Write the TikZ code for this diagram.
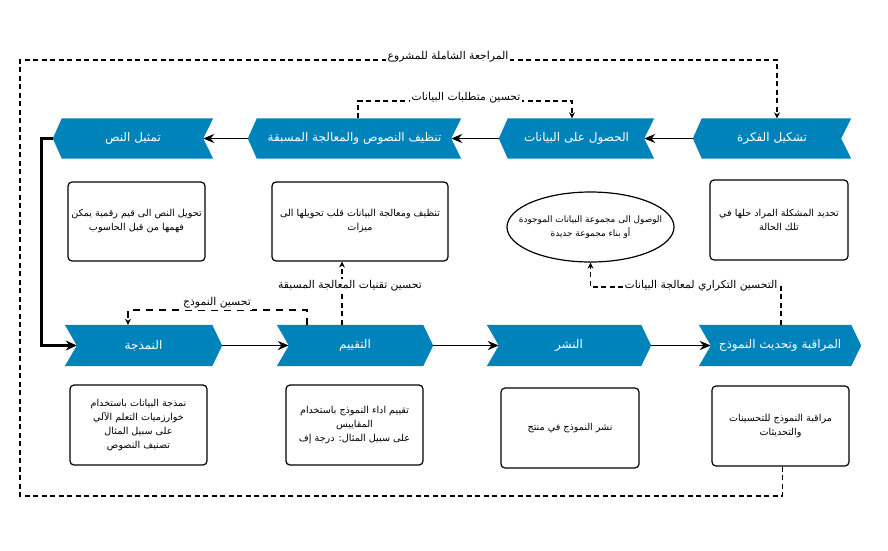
\documentclass[tikz,border=0pt]{standalone}
\usepackage{fontspec}
\newfontfamily\arabicfont[Script=Arabic]{DejaVu Sans}
\TeXXeTstate=1
\usetikzlibrary{arrows.meta,shapes.geometric,backgrounds}
\definecolor{chevblue}{RGB}{0,130,186}
\newcommand\RL[1]{\beginR #1\endR}
\newcommand\chevfont{\arabicfont\fontsize{12}{14}\selectfont}
\newcommand\detfont{\arabicfont\fontsize{9.6}{14}\selectfont}
\newcommand\ellfont{\arabicfont\fontsize{8.9}{13.5}\selectfont}
\newcommand\lblfont{\arabicfont\fontsize{10.8}{12}\selectfont}
\newcommand\chevleft[1]{\fill[chevblue] (#1.west) -- ([xshift=9pt]#1.north west) -- (#1.north east) -- ([xshift=-10pt]#1.east) -- (#1.south east) -- ([xshift=9pt]#1.south west) -- cycle;}
\newcommand\chevright[1]{\fill[chevblue] (#1.north west) -- ([xshift=-10pt]#1.north east) -- (#1.east) -- ([xshift=-10pt]#1.south east) -- (#1.south west) -- ([xshift=12pt]#1.west) -- cycle;}
\tikzset{
  chev/.style={rectangle, inner sep=0pt, minimum height=40pt, text=white, font=\chevfont},
  detail/.style={draw, rounded corners=4pt, line width=1.2pt, align=center, font=\detfont, inner sep=2pt},
  detailell/.style={draw, ellipse, line width=1.2pt, inner sep=0pt},
  dettext/.style={align=center, font=\ellfont, inner sep=0pt},
  mainarrow/.style={line width=1.8pt, -{Stealth[length=11pt,width=9pt]}},
  thickarrow/.style={line width=2.8pt, -{Stealth[length=11pt,width=10pt]}},
  dashline/.style={line width=1.2pt, dash pattern=on 5pt off 3.5pt, -{Stealth[length=6pt,width=6pt]}},
  lbl/.style={fill=white, inner sep=1.5pt, font=\lblfont},
}
\begin{document}
\begin{tikzpicture}[x=1pt,y=-1pt]
\useasboundingbox (0,0) rectangle (888,550);
% top row chevrons (pointing left)
\node[chev, minimum width=158pt] (idea) at (772,138.5) {\RL{تشكيل الفكرة}};
\node[chev, minimum width=155pt] (acq) at (576.5,138.5) {\RL{الحصول على البيانات}};
\node[chev, minimum width=213pt] (clean) at (354.5,138.5) {\RL{تنظيف النصوص والمعالجة المسبقة}};
\node[chev, minimum width=160pt] (rep) at (133,138.5) {\RL{تمثيل النص}};
% bottom row chevrons (pointing right)
\node[chev, minimum width=157pt, minimum height=41pt] (model) at (143.5,345.5) {\RL{النمذجة}};
\node[chev, minimum width=156pt, minimum height=41pt] (eval) at (355,345.5) {\RL{التقييم}};
\node[chev, minimum width=164pt, minimum height=41pt] (deploy) at (569,345.5) {\RL{النشر}};
\node[chev, minimum width=162pt, minimum height=41pt] (monitor) at (780,345.5) {\RL{المراقبة وتحديث النموذج}};
\begin{scope}[on background layer]
  \fill[white] (0,0) rectangle (888,550);
  \chevleft{idea}\chevleft{acq}\chevleft{clean}\chevleft{rep}
  \chevright{model}\chevright{eval}\chevright{deploy}\chevright{monitor}
\end{scope}
% detail boxes
\node[detail, minimum width=138pt, minimum height=80pt] (b4) at (779,220) {\RL{تحديد المشكلة المراد حلها في}\\\RL{تلك الحالة}};
\node[detailell, minimum width=167pt, minimum height=70pt] (b3) at (590.5,227) {};
\node[dettext] (b3t) at (b3.center) {\RL{الوصول الى مجموعة البيانات الموجودة}\\\RL{أو بناء مجموعة جديدة}};
\node[detail, minimum width=176pt, minimum height=79pt] (b2) at (360,221.5) {\RL{تنظيف ومعالجة البيانات قلب تحويلها الى}\\\RL{ميزات}};
\node[detail, minimum width=137pt, minimum height=79pt] (b1) at (136.5,221.5) {\RL{تحويل النص الى قيم رقمية يمكن}\\\RL{فهمها من قبل الحاسوب}};
\node[detail, minimum width=137pt, minimum height=80pt] (b5) at (138.5,425) {\RL{نمذجة البيانات باستخدام}\\\RL{خوارزميات التعلم الآلي}\\\RL{على سبيل المثال}\\\RL{تصنيف النصوص}};
\node[detail, minimum width=137pt, minimum height=80pt] (b6) at (354.5,425) {\RL{تقييم اداء النموذج باستخدام}\\\RL{المقاييس}\\\RL{على سبيل المثال: درجة إف}};
\node[detail, minimum width=138pt, minimum height=80pt] (b7) at (570,428) {\RL{نشر النموذج في منتج}};
\node[detail, minimum width=137pt, minimum height=80pt] (b8) at (780.5,426) {\RL{مراقبة النموذج للتحسينات}\\\RL{والتحديثات}};
% main arrows
\draw[mainarrow] (idea.west) -- ([xshift=-10pt]acq.east);
\draw[mainarrow] (acq.west) -- ([xshift=-10pt]clean.east);
\draw[mainarrow] (clean.west) -- ([xshift=-10pt]rep.east);
\draw[thickarrow] (rep.west) -- ++(-11,0) |- ([xshift=12pt]model.west);
\draw[mainarrow] (model.east) -- ([xshift=12pt]eval.west);
\draw[mainarrow] (eval.east) -- ([xshift=12pt]deploy.west);
\draw[mainarrow] (deploy.east) -- ([xshift=12pt]monitor.west);
% dashed feedback loops
\coordinate (rvBL) at (20,496);
\coordinate (rvTL) at (20,60);
\draw[dashline] ([xshift=2pt]b8.south) |- (rvBL) -- (rvTL) -| ([xshift=5pt]idea.north);
\node[lbl] (lrev) at (448,57) {\RL{المراجعة الشاملة للمشروع}};
\coordinate (dq) at (0,101);
\draw[dashline] ([xshift=3.5pt]clean.north) -- ([xshift=3.5pt]clean.north |- dq) -- ([xshift=-4.5pt]acq.north |- dq) -- ([xshift=-4.5pt]acq.north);
\node[lbl] (ldq) at (466,98) {\RL{تحسين متطلبات البيانات}};
\coordinate (it) at (0,287);
\draw[dashline] ([xshift=1pt]monitor.north) -- ([xshift=1pt]monitor.north |- it) -| (b3.south);
\node[lbl] (lit) at (701,286) {\RL{التحسين التكراري لمعالجة البيانات}};
\draw[dashline] ([xshift=-13pt]eval.north) -- ([xshift=-13pt]eval.north |- b2.south);
\node[lbl] (lpre) at (350,286) {\RL{تحسين تقنيات المعالجة المسبقة}};
\coordinate (mi) at (0,310);
\draw[dashline, dash pattern=on 7pt off 6pt] ([xshift=-48pt]eval.north) -- ([xshift=-48pt]eval.north |- mi) -- ([xshift=-15.5pt]model.north |- mi) -- ([xshift=-15.5pt]model.north);
\node[lbl] (lmi) at (217,303) {\RL{تحسين النموذج}};
\end{tikzpicture}
\end{document}
